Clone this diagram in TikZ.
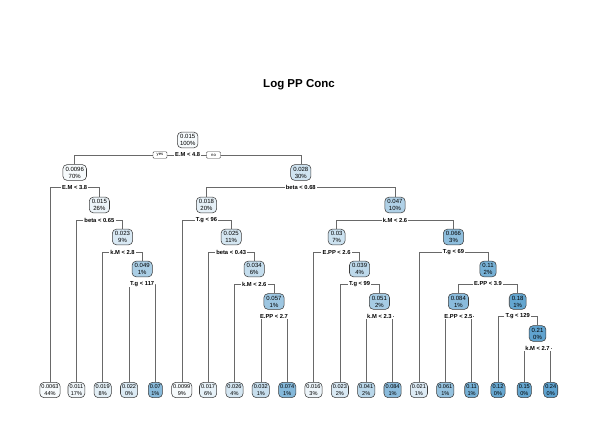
\documentclass[tikz,border=0pt]{standalone}
\usepackage{fontspec}
\setmainfont{Liberation Sans}
\usetikzlibrary{backgrounds}
\definecolor{nodeblue}{RGB}{66,146,198}
\definecolor{boxline}{RGB}{60,60,60}
\definecolor{branchgray}{RGB}{105,105,105}
\tikzset{
  tnode/.style={draw=boxline, rounded corners=4pt, align=center, line width=0.55pt,
    font=\fontsize{6}{7}\selectfont, inner xsep=2.6pt, inner ysep=2.2pt},
  tleaf/.style={tnode, font=\fontsize{5.6}{6.8}\selectfont, inner xsep=1.6pt},
  shadep/.style={fill=nodeblue!#1!white},
  splitlab/.style={fill=white, font=\bfseries\fontsize{5.8}{6}\selectfont,
    inner xsep=1pt, inner ysep=0.6pt},
  yesno/.style={draw=boxline, fill=white, rounded corners=1pt, line width=0.4pt,
    font=\fontsize{4.2}{4.2}\selectfont, minimum width=14pt, minimum height=6.5pt, inner sep=0.5pt},
  branch/.style={draw=branchgray, line width=0.6pt}
}
\begin{document}
\begin{tikzpicture}[x=1pt,y=-1pt]
  \useasboundingbox (0,0) rectangle (598,426);
  \node[font=\bfseries\fontsize{11.5}{12}\selectfont] (title) at (299,85) {Log PP Conc};
  % internal nodes (rpart numbering)
  \node[tnode,shadep=5]  (n1)   at (187.7,140)   {0.015\\100\%};
  \node[tnode,shadep=5]  (n2)   at (74.7,172.5)  {0.0096\\70\%};
  \node[tnode,shadep=25] (n3)   at (300.8,172.5) {0.028\\30\%};
  \node[tnode,shadep=10] (n5)   at (99.4,205)    {0.015\\26\%};
  \node[tnode,shadep=14] (n6)   at (206.5,205)   {0.018\\20\%};
  \node[tnode,shadep=42] (n7)   at (395,205)     {0.047\\10\%};
  \node[tnode,shadep=20] (n11)  at (122.5,237)   {0.023\\9\%};
  \node[tnode,shadep=22] (n13)  at (231.2,237)   {0.025\\11\%};
  \node[tnode,shadep=27] (n14)  at (336.6,237)   {0.03\\7\%};
  \node[tnode,shadep=60] (n15)  at (453.5,237)   {0.066\\3\%};
  \node[tnode,shadep=45] (n23)  at (142.2,269)   {0.049\\1\%};
  \node[tnode,shadep=31] (n27)  at (254.2,269)   {0.034\\6\%};
  \node[tnode,shadep=35] (n29)  at (359.6,269)   {0.039\\4\%};
  \node[tnode,shadep=72] (n31)  at (488,269)     {0.11\\2\%};
  \node[tnode,shadep=52] (n55)  at (274,301.5)   {0.057\\1\%};
  \node[tnode,shadep=47] (n59)  at (379.4,301.5) {0.051\\2\%};
  \node[tnode,shadep=62] (n62)  at (458.4,301.5) {0.084\\1\%};
  \node[tnode,shadep=82] (n63)  at (517.7,301.5) {0.18\\1\%};
  \node[tnode,shadep=84] (n127) at (537.5,333.5) {0.21\\0\%};
  % leaves
  \node[tleaf,shadep=4]  (n4)   at (50,390)    {0.0063\\44\%};
  \node[tleaf,shadep=8]  (n10)  at (76.4,390)  {0.011\\17\%};
  \node[tleaf,shadep=15] (n22)  at (102.7,390) {0.019\\8\%};
  \node[tleaf,shadep=19] (n46)  at (129.1,390) {0.022\\0\%};
  \node[tleaf,shadep=63] (n47)  at (155.4,390) {0.07\\1\%};
  \node[tleaf,shadep=5]  (n12)  at (181.8,390) {0.0099\\9\%};
  \node[tleaf,shadep=13] (n26)  at (208.1,390) {0.017\\6\%};
  \node[tleaf,shadep=23] (n54)  at (234.5,390) {0.026\\4\%};
  \node[tleaf,shadep=29] (n110) at (260.8,390) {0.032\\1\%};
  \node[tleaf,shadep=65] (n111) at (287.2,390) {0.074\\1\%};
  \node[tleaf,shadep=10] (n28)  at (313.5,390) {0.016\\3\%};
  \node[tleaf,shadep=20] (n58)  at (339.9,390) {0.023\\2\%};
  \node[tleaf,shadep=37] (n118) at (366.2,390) {0.041\\2\%};
  \node[tleaf,shadep=62] (n119) at (392.6,390) {0.084\\1\%};
  \node[tleaf,shadep=18] (n30)  at (418.9,390) {0.021\\1\%};
  \node[tleaf,shadep=56] (n124) at (445.3,390) {0.061\\1\%};
  \node[tleaf,shadep=72] (n125) at (471.6,390) {0.11\\1\%};
  \node[tleaf,shadep=80] (n126) at (498,390)   {0.12\\0\%};
  \node[tleaf,shadep=82] (n254) at (524.3,390) {0.15\\0\%};
  \node[tleaf,shadep=85] (n255) at (550.7,390) {0.24\\0\%};
  % split labels
  \node[splitlab] (s1)   at (187.7,155)   {E.M < 4.8};
  \node[yesno]    (yes)  at (160,155)     {yes};
  \node[yesno]    (no)   at (213.5,155)   {no};
  \node[splitlab] (s2)   at (74.7,187.5)  {E.M < 3.8};
  \node[splitlab] (s3)   at (300.8,187.5) {beta < 0.68};
  \node[splitlab] (s5)   at (99.4,220)    {beta < 0.65};
  \node[splitlab] (s6)   at (206.5,220)   {T.g < 96};
  \node[splitlab] (s7)   at (395,220)     {k.M < 2.6};
  \node[splitlab] (s11)  at (122.5,252)   {k.M < 2.8};
  \node[splitlab] (s13)  at (231.2,252)   {beta < 0.43};
  \node[splitlab] (s14)  at (336.6,252)   {E.PP < 2.6};
  \node[splitlab] (s15)  at (453.5,252)   {T.g < 69};
  \node[splitlab] (s23)  at (142.2,284)   {T.g < 117};
  \node[splitlab] (s27)  at (254.2,284)   {k.M < 2.6};
  \node[splitlab] (s29)  at (359.6,284)   {T.g < 99};
  \node[splitlab] (s31)  at (488,284)     {E.PP < 3.9};
  \node[splitlab] (s55)  at (274,316.5)   {E.PP < 2.7};
  \node[splitlab] (s59)  at (379.4,316.5) {k.M < 2.3};
  \node[splitlab] (s62)  at (458.4,316.5) {E.PP < 2.5};
  \node[splitlab] (s63)  at (517.7,316.5) {T.g < 129};
  \node[splitlab] (s127) at (537.5,348.5) {k.M < 2.7};
  % branches
  \begin{scope}[on background layer]
    \foreach \p/\l/\r in {1/2/3, 2/4/5, 3/6/7, 5/10/11, 6/12/13, 7/14/15,
        11/22/23, 13/26/27, 14/28/29, 15/30/31, 23/46/47, 27/54/55,
        29/58/59, 31/62/63, 55/110/111, 59/118/119, 62/124/125,
        63/126/127, 127/254/255}
      \draw[branch] (s\p) -| (n\l) (s\p) -| (n\r);
  \end{scope}
\end{tikzpicture}
\end{document}
